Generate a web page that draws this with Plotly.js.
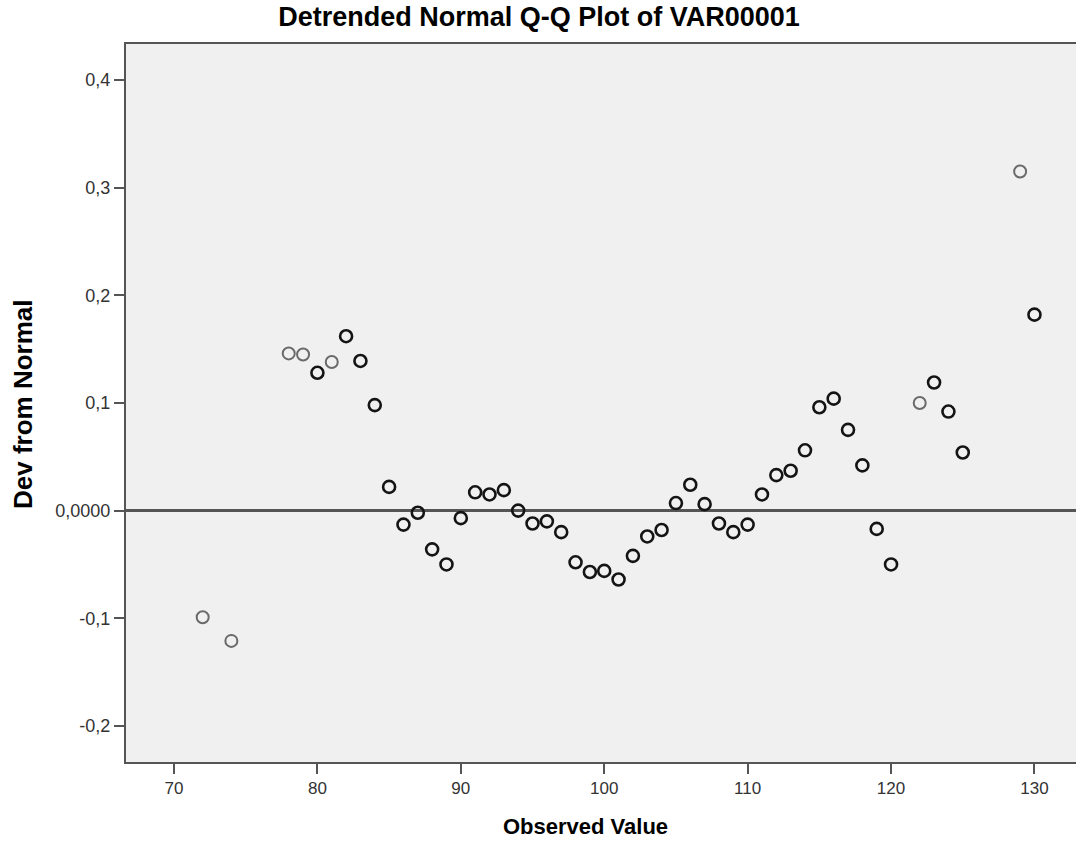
<!DOCTYPE html>
<html>
<head>
<meta charset="utf-8">
<script src="https://cdn.plot.ly/plotly-3.0.1.min.js"></script>
<style>
html,body{margin:0;padding:0;overflow:hidden;background:#fff;}
#chart{width:1100px;height:849px;}
</style>
</head>
<body>
<div id="chart"></div>
<script>
// Observed values (x) and deviations from normal (y)
const observedValues = [72,74,78,79,80,81,82,83,84,85,86,87,88,89,90,91,92,93,94,95,96,97,98,99,100,101,102,103,104,105,106,107,108,109,110,111,112,113,114,115,116,117,118,119,120,122,123,124,125,129,130];
const devFromNormal = [-0.099,-0.121,0.146,0.145,0.128,0.138,0.162,0.139,0.098,0.022,-0.013,-0.002,-0.036,-0.050,-0.007,0.017,0.015,0.019,0.000,-0.012,-0.010,-0.020,-0.048,-0.057,-0.056,-0.064,-0.042,-0.024,-0.018,0.007,0.024,0.006,-0.012,-0.020,-0.013,0.015,0.033,0.037,0.056,0.096,0.104,0.075,0.042,-0.017,-0.050,0.100,0.119,0.092,0.054,0.315,0.182];
// Values observed only once are drawn lighter (as in the original SPSS output)
const singleObservations = [72,74,78,79,81,122,129];

const yTickVals = [-0.2,-0.1,0,0.1,0.2,0.3,0.4];
const yTickText = ['-0,2','-0,1','0,0000','0,1','0,2','0,3','0,4'];
const xTickVals = [70,80,90,100,110,120,130];
const xTickText = ['70','80','90','100','110','120','130'];

const lightX=[],lightY=[],darkX=[],darkY=[];
observedValues.forEach((v,i)=>{
  if(singleObservations.includes(v)){lightX.push(v);lightY.push(devFromNormal[i]);}
  else {darkX.push(v);darkY.push(devFromNormal[i]);}
});

const traces = [
  {x:lightX,y:lightY,type:'scatter',mode:'markers',hoverinfo:'x+y',
   marker:{symbol:'circle-open',size:12,color:'#6a6a6a',line:{width:2,color:'#6a6a6a'}}},
  {x:darkX,y:darkY,type:'scatter',mode:'markers',hoverinfo:'x+y',
   marker:{symbol:'circle-open',size:12,color:'#141414',line:{width:2.6,color:'#141414'}}}
];

const FONT='"Liberation Sans", Arial, sans-serif';
const plotW = 1100-126, plotH = 849-44-87;

const layout = {
  width:1100,height:849,
  margin:{l:126,r:0,t:44,b:87},
  paper_bgcolor:'#ffffff',
  plot_bgcolor:'#f0f0f0',
  showlegend:false,
  font:{family:FONT,color:'#333'},
  title:{text:'Detrended Normal Q-Q Plot of VAR00001',
         font:{family:FONT,size:27,color:'#000',weight:'bold'},
         x:539/1100,xanchor:'center',xref:'container',y:1-17/849,yanchor:'middle',yref:'container'},
  xaxis:{range:[66.653,134.57],tickvals:xTickVals,ticktext:xTickText,
         showgrid:false,zeroline:false,showline:true,linecolor:'#555',linewidth:2,mirror:true,
         ticks:'outside',ticklen:10,tickwidth:2,tickcolor:'#555',
         tickfont:{size:17,color:'#333'}},
  yaxis:{range:[-0.2335,0.4334],tickvals:yTickVals,ticktext:yTickText,
         showgrid:false,zeroline:true,zerolinecolor:'#555',zerolinewidth:2.5,
         showline:true,linecolor:'#555',linewidth:2,mirror:true,
         ticks:'outside',ticklen:10,tickwidth:2,tickcolor:'#555',
         tickfont:{size:18,color:'#333'}},
  annotations:[
    {text:'Observed Value',xref:'paper',yref:'paper',
     x:(585-126)/plotW,y:-(826-762)/plotH,xanchor:'center',yanchor:'middle',showarrow:false,
     font:{family:FONT,size:22,color:'#000',weight:'bold'}},
    {text:'Dev from Normal',xref:'paper',yref:'paper',textangle:-90,
     x:-(126-23)/plotW,y:(762-404)/plotH,xanchor:'center',yanchor:'middle',showarrow:false,
     font:{family:FONT,size:26,color:'#000',weight:'bold'}}
  ]
};

Plotly.newPlot('chart',traces,layout,{displayModeBar:false,staticPlot:true});
</script>
</body>
</html>
